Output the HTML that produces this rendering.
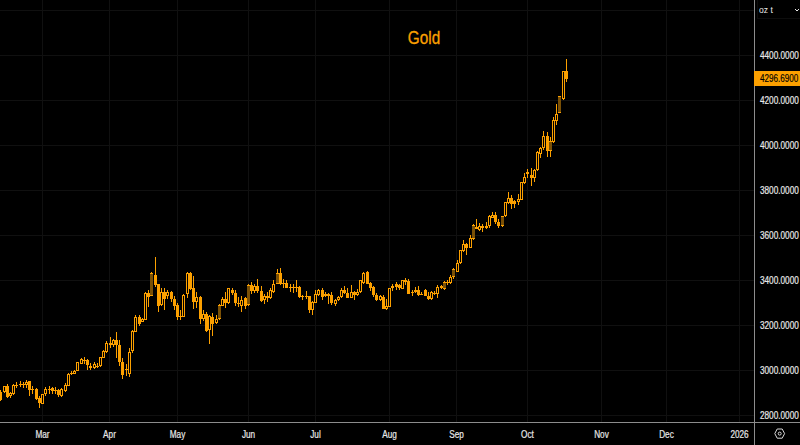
<!DOCTYPE html>
<html><head><meta charset="utf-8"><style>
html,body{margin:0;padding:0;background:#000;width:800px;height:445px;overflow:hidden;}
body{position:relative;font-family:"Liberation Sans",sans-serif;}
.yl{-webkit-text-stroke:0.2px #e8e8e8;position:absolute;left:760px;width:52px;height:12px;line-height:12px;font-size:10px;color:#e8e8e8;white-space:nowrap;transform-origin:0 0;transform:scaleX(0.82);}
.xl{-webkit-text-stroke:0.2px #e8e8e8;position:absolute;top:427.6px;width:61px;text-align:center;height:14px;line-height:14px;font-size:10px;color:#e8e8e8;transform:scaleX(0.82);}
.title{-webkit-text-stroke:0.3px #fca000;position:absolute;left:379.5px;top:27px;width:88px;text-align:center;font-size:18px;line-height:22px;color:#fca000;transform:scaleX(0.85);}
.tag{position:absolute;left:754px;top:71px;width:46px;height:15px;background:#fca000;}
.tagt{-webkit-text-stroke:0.15px #000;position:absolute;left:760px;top:72px;height:13px;line-height:13px;font-size:10px;color:#000;white-space:nowrap;transform-origin:0 0;transform:scaleX(0.81);}
.dd{position:absolute;left:757px;top:-1px;width:50px;height:20px;border:1px solid #0d0d0d;box-sizing:border-box;background:#000;}
.ddt{position:absolute;left:759px;top:4px;font-size:9.5px;line-height:12px;color:#e8e8e8;transform-origin:0 0;transform:scaleX(0.9);}
</style></head><body>
<svg width="800" height="445" viewBox="0 0 800 445" style="position:absolute;left:0;top:0" shape-rendering="crispEdges">
<rect x="0" y="10" width="754" height="1" fill="#101010"/><rect x="0" y="55" width="754" height="1" fill="#101010"/><rect x="0" y="100" width="754" height="1" fill="#101010"/><rect x="0" y="145" width="754" height="1" fill="#101010"/><rect x="0" y="190" width="754" height="1" fill="#101010"/><rect x="0" y="235" width="754" height="1" fill="#101010"/><rect x="0" y="280" width="754" height="1" fill="#101010"/><rect x="0" y="325" width="754" height="1" fill="#101010"/><rect x="0" y="370" width="754" height="1" fill="#101010"/><rect x="0" y="415" width="754" height="1" fill="#101010"/><rect x="42" y="0" width="1" height="422" fill="#101010"/><rect x="109" y="0" width="1" height="422" fill="#101010"/><rect x="177" y="0" width="1" height="422" fill="#101010"/><rect x="248" y="0" width="1" height="422" fill="#101010"/><rect x="315" y="0" width="1" height="422" fill="#101010"/><rect x="389" y="0" width="1" height="422" fill="#101010"/><rect x="456" y="0" width="1" height="422" fill="#101010"/><rect x="527" y="0" width="1" height="422" fill="#101010"/><rect x="601" y="0" width="1" height="422" fill="#101010"/><rect x="666" y="0" width="1" height="422" fill="#101010"/><rect x="739" y="0" width="1" height="422" fill="#101010"/><rect x="754" y="0" width="1" height="445" fill="#8c8c8c"/><rect x="0" y="422" width="800" height="1" fill="#8c8c8c"/>
<rect x="0" y="390" width="1" height="11" fill="#fca000"/><rect x="-1" y="392" width="3" height="8" fill="#fca000"/><rect x="4" y="386" width="1" height="7" fill="#fca000"/><rect x="3" y="386" width="3" height="6" fill="#fca000"/><rect x="4" y="387" width="1" height="4" fill="#000"/><rect x="7" y="384" width="1" height="14" fill="#fca000"/><rect x="6" y="386" width="3" height="11" fill="#fca000"/><rect x="10" y="392" width="1" height="6" fill="#fca000"/><rect x="9" y="393" width="3" height="3" fill="#fca000"/><rect x="10" y="394" width="1" height="1" fill="#000"/><rect x="13" y="384" width="1" height="11" fill="#fca000"/><rect x="12" y="385" width="3" height="9" fill="#fca000"/><rect x="13" y="386" width="1" height="7" fill="#000"/><rect x="16" y="382" width="1" height="6" fill="#fca000"/><rect x="15" y="385" width="3" height="1" fill="#fca000"/><rect x="20" y="381" width="1" height="6" fill="#fca000"/><rect x="19" y="384" width="3" height="1" fill="#fca000"/><rect x="23" y="382" width="1" height="6" fill="#fca000"/><rect x="22" y="384" width="3" height="1" fill="#fca000"/><rect x="26" y="380" width="1" height="8" fill="#fca000"/><rect x="25" y="382" width="3" height="3" fill="#fca000"/><rect x="26" y="383" width="1" height="1" fill="#000"/><rect x="29" y="381" width="1" height="15" fill="#fca000"/><rect x="28" y="381" width="3" height="9" fill="#fca000"/><rect x="32" y="386" width="1" height="8" fill="#fca000"/><rect x="31" y="389" width="3" height="1" fill="#fca000"/><rect x="36" y="388" width="1" height="12" fill="#fca000"/><rect x="35" y="389" width="3" height="10" fill="#fca000"/><rect x="39" y="396" width="1" height="12" fill="#fca000"/><rect x="38" y="398" width="3" height="5" fill="#fca000"/><rect x="42" y="394" width="1" height="10" fill="#fca000"/><rect x="41" y="394" width="3" height="10" fill="#fca000"/><rect x="42" y="395" width="1" height="8" fill="#000"/><rect x="45" y="387" width="1" height="9" fill="#fca000"/><rect x="44" y="389" width="3" height="5" fill="#fca000"/><rect x="45" y="390" width="1" height="3" fill="#000"/><rect x="49" y="386" width="1" height="8" fill="#fca000"/><rect x="48" y="389" width="3" height="1" fill="#fca000"/><rect x="52" y="387" width="1" height="7" fill="#fca000"/><rect x="51" y="388" width="3" height="3" fill="#fca000"/><rect x="55" y="387" width="1" height="7" fill="#fca000"/><rect x="54" y="390" width="3" height="1" fill="#fca000"/><rect x="58" y="389" width="1" height="8" fill="#fca000"/><rect x="57" y="390" width="3" height="5" fill="#fca000"/><rect x="61" y="388" width="1" height="9" fill="#fca000"/><rect x="60" y="389" width="3" height="7" fill="#fca000"/><rect x="61" y="390" width="1" height="5" fill="#000"/><rect x="65" y="383" width="1" height="9" fill="#fca000"/><rect x="64" y="385" width="3" height="6" fill="#fca000"/><rect x="65" y="386" width="1" height="4" fill="#000"/><rect x="68" y="373" width="1" height="13" fill="#fca000"/><rect x="67" y="374" width="3" height="12" fill="#fca000"/><rect x="68" y="375" width="1" height="10" fill="#000"/><rect x="71" y="371" width="1" height="4" fill="#fca000"/><rect x="70" y="373" width="3" height="1" fill="#fca000"/><rect x="74" y="370" width="1" height="4" fill="#fca000"/><rect x="73" y="371" width="3" height="3" fill="#fca000"/><rect x="74" y="372" width="1" height="1" fill="#000"/><rect x="77" y="362" width="1" height="9" fill="#fca000"/><rect x="76" y="362" width="3" height="9" fill="#fca000"/><rect x="77" y="363" width="1" height="7" fill="#000"/><rect x="81" y="358" width="1" height="6" fill="#fca000"/><rect x="80" y="359" width="3" height="5" fill="#fca000"/><rect x="81" y="360" width="1" height="3" fill="#000"/><rect x="84" y="357" width="1" height="7" fill="#fca000"/><rect x="83" y="360" width="3" height="1" fill="#fca000"/><rect x="87" y="359" width="1" height="11" fill="#fca000"/><rect x="86" y="360" width="3" height="5" fill="#fca000"/><rect x="90" y="363" width="1" height="7" fill="#fca000"/><rect x="89" y="366" width="3" height="2" fill="#fca000"/><rect x="94" y="362" width="1" height="7" fill="#fca000"/><rect x="93" y="364" width="3" height="4" fill="#fca000"/><rect x="94" y="365" width="1" height="2" fill="#000"/><rect x="97" y="363" width="1" height="5" fill="#fca000"/><rect x="96" y="366" width="3" height="1" fill="#fca000"/><rect x="100" y="357" width="1" height="10" fill="#fca000"/><rect x="99" y="357" width="3" height="9" fill="#fca000"/><rect x="100" y="358" width="1" height="7" fill="#000"/><rect x="103" y="350" width="1" height="8" fill="#fca000"/><rect x="102" y="351" width="3" height="7" fill="#fca000"/><rect x="103" y="352" width="1" height="5" fill="#000"/><rect x="106" y="341" width="1" height="12" fill="#fca000"/><rect x="105" y="343" width="3" height="9" fill="#fca000"/><rect x="106" y="344" width="1" height="7" fill="#000"/><rect x="110" y="337" width="1" height="11" fill="#fca000"/><rect x="109" y="343" width="3" height="2" fill="#fca000"/><rect x="113" y="339" width="1" height="8" fill="#fca000"/><rect x="112" y="340" width="3" height="5" fill="#fca000"/><rect x="113" y="341" width="1" height="3" fill="#000"/><rect x="116" y="332" width="1" height="26" fill="#fca000"/><rect x="115" y="340" width="3" height="5" fill="#fca000"/><rect x="119" y="340" width="1" height="26" fill="#fca000"/><rect x="118" y="345" width="3" height="17" fill="#fca000"/><rect x="122" y="358" width="1" height="21" fill="#fca000"/><rect x="121" y="362" width="3" height="13" fill="#fca000"/><rect x="126" y="364" width="1" height="12" fill="#fca000"/><rect x="125" y="369" width="3" height="1" fill="#fca000"/><rect x="129" y="348" width="1" height="29" fill="#fca000"/><rect x="128" y="352" width="3" height="22" fill="#fca000"/><rect x="129" y="353" width="1" height="20" fill="#000"/><rect x="132" y="330" width="1" height="23" fill="#fca000"/><rect x="131" y="331" width="3" height="20" fill="#fca000"/><rect x="132" y="332" width="1" height="18" fill="#000"/><rect x="135" y="315" width="1" height="17" fill="#fca000"/><rect x="134" y="317" width="3" height="15" fill="#fca000"/><rect x="135" y="318" width="1" height="13" fill="#000"/><rect x="139" y="315" width="1" height="11" fill="#fca000"/><rect x="138" y="317" width="3" height="7" fill="#fca000"/><rect x="142" y="318" width="1" height="4" fill="#fca000"/><rect x="141" y="319" width="3" height="3" fill="#fca000"/><rect x="142" y="320" width="1" height="1" fill="#000"/><rect x="145" y="292" width="1" height="28" fill="#fca000"/><rect x="144" y="293" width="3" height="27" fill="#fca000"/><rect x="145" y="294" width="1" height="25" fill="#000"/><rect x="148" y="290" width="1" height="17" fill="#fca000"/><rect x="147" y="293" width="3" height="4" fill="#fca000"/><rect x="151" y="272" width="1" height="24" fill="#fca000"/><rect x="150" y="273" width="3" height="23" fill="#7a5006"/><rect x="150" y="273" width="3" height="1" fill="#fca000"/><rect x="150" y="295" width="3" height="1" fill="#fca000"/><rect x="155" y="257" width="1" height="30" fill="#fca000"/><rect x="154" y="275" width="3" height="10" fill="#fca000"/><rect x="158" y="284" width="1" height="28" fill="#fca000"/><rect x="157" y="284" width="3" height="22" fill="#fca000"/><rect x="161" y="288" width="1" height="18" fill="#fca000"/><rect x="160" y="292" width="3" height="13" fill="#fca000"/><rect x="161" y="293" width="1" height="11" fill="#000"/><rect x="164" y="288" width="1" height="22" fill="#fca000"/><rect x="163" y="292" width="3" height="7" fill="#fca000"/><rect x="167" y="290" width="1" height="9" fill="#fca000"/><rect x="166" y="292" width="3" height="4" fill="#fca000"/><rect x="167" y="293" width="1" height="2" fill="#000"/><rect x="171" y="291" width="1" height="11" fill="#fca000"/><rect x="170" y="292" width="3" height="7" fill="#fca000"/><rect x="174" y="296" width="1" height="14" fill="#fca000"/><rect x="173" y="299" width="3" height="7" fill="#fca000"/><rect x="177" y="303" width="1" height="17" fill="#fca000"/><rect x="176" y="305" width="3" height="12" fill="#fca000"/><rect x="180" y="310" width="1" height="10" fill="#fca000"/><rect x="179" y="316" width="3" height="1" fill="#fca000"/><rect x="183" y="294" width="1" height="23" fill="#fca000"/><rect x="182" y="295" width="3" height="22" fill="#fca000"/><rect x="183" y="296" width="1" height="20" fill="#000"/><rect x="187" y="272" width="1" height="26" fill="#fca000"/><rect x="186" y="273" width="3" height="21" fill="#fca000"/><rect x="187" y="274" width="1" height="19" fill="#000"/><rect x="190" y="272" width="1" height="18" fill="#fca000"/><rect x="189" y="273" width="3" height="16" fill="#fca000"/><rect x="193" y="276" width="1" height="33" fill="#fca000"/><rect x="192" y="288" width="3" height="14" fill="#fca000"/><rect x="196" y="292" width="1" height="16" fill="#fca000"/><rect x="195" y="297" width="3" height="5" fill="#fca000"/><rect x="196" y="298" width="1" height="3" fill="#000"/><rect x="200" y="296" width="1" height="28" fill="#fca000"/><rect x="199" y="297" width="3" height="22" fill="#fca000"/><rect x="203" y="310" width="1" height="11" fill="#fca000"/><rect x="202" y="314" width="3" height="5" fill="#fca000"/><rect x="203" y="315" width="1" height="3" fill="#000"/><rect x="206" y="312" width="1" height="20" fill="#fca000"/><rect x="205" y="314" width="3" height="17" fill="#fca000"/><rect x="209" y="315" width="1" height="29" fill="#fca000"/><rect x="208" y="316" width="3" height="14" fill="#fca000"/><rect x="209" y="317" width="1" height="12" fill="#000"/><rect x="212" y="313" width="1" height="23" fill="#fca000"/><rect x="211" y="317" width="3" height="7" fill="#fca000"/><rect x="216" y="315" width="1" height="9" fill="#fca000"/><rect x="215" y="319" width="3" height="4" fill="#fca000"/><rect x="216" y="320" width="1" height="2" fill="#000"/><rect x="219" y="304" width="1" height="16" fill="#fca000"/><rect x="218" y="305" width="3" height="14" fill="#7a5006"/><rect x="218" y="305" width="3" height="1" fill="#fca000"/><rect x="218" y="318" width="3" height="1" fill="#fca000"/><rect x="222" y="297" width="1" height="9" fill="#fca000"/><rect x="221" y="299" width="3" height="7" fill="#fca000"/><rect x="222" y="300" width="1" height="5" fill="#000"/><rect x="225" y="292" width="1" height="16" fill="#fca000"/><rect x="224" y="299" width="3" height="4" fill="#fca000"/><rect x="228" y="288" width="1" height="16" fill="#fca000"/><rect x="227" y="288" width="3" height="15" fill="#fca000"/><rect x="228" y="289" width="1" height="13" fill="#000"/><rect x="232" y="288" width="1" height="7" fill="#fca000"/><rect x="231" y="290" width="3" height="3" fill="#fca000"/><rect x="235" y="290" width="1" height="16" fill="#fca000"/><rect x="234" y="293" width="3" height="10" fill="#fca000"/><rect x="238" y="297" width="1" height="10" fill="#fca000"/><rect x="237" y="303" width="3" height="1" fill="#fca000"/><rect x="241" y="296" width="1" height="16" fill="#fca000"/><rect x="240" y="300" width="3" height="6" fill="#fca000"/><rect x="241" y="301" width="1" height="4" fill="#000"/><rect x="245" y="297" width="1" height="12" fill="#fca000"/><rect x="244" y="298" width="3" height="8" fill="#fca000"/><rect x="248" y="284" width="1" height="22" fill="#fca000"/><rect x="247" y="285" width="3" height="20" fill="#7a5006"/><rect x="247" y="285" width="3" height="1" fill="#fca000"/><rect x="247" y="304" width="3" height="1" fill="#fca000"/><rect x="251" y="282" width="1" height="12" fill="#fca000"/><rect x="250" y="285" width="3" height="6" fill="#fca000"/><rect x="254" y="284" width="1" height="9" fill="#fca000"/><rect x="253" y="286" width="3" height="5" fill="#fca000"/><rect x="254" y="287" width="1" height="3" fill="#000"/><rect x="257" y="279" width="1" height="14" fill="#fca000"/><rect x="256" y="286" width="3" height="5" fill="#fca000"/><rect x="261" y="286" width="1" height="16" fill="#fca000"/><rect x="260" y="291" width="3" height="10" fill="#fca000"/><rect x="264" y="294" width="1" height="10" fill="#fca000"/><rect x="263" y="296" width="3" height="4" fill="#fca000"/><rect x="264" y="297" width="1" height="2" fill="#000"/><rect x="267" y="292" width="1" height="10" fill="#fca000"/><rect x="266" y="296" width="3" height="2" fill="#fca000"/><rect x="270" y="288" width="1" height="11" fill="#fca000"/><rect x="269" y="290" width="3" height="8" fill="#fca000"/><rect x="270" y="291" width="1" height="6" fill="#000"/><rect x="273" y="280" width="1" height="13" fill="#fca000"/><rect x="272" y="284" width="3" height="8" fill="#fca000"/><rect x="273" y="285" width="1" height="6" fill="#000"/><rect x="277" y="269" width="1" height="15" fill="#fca000"/><rect x="276" y="273" width="3" height="11" fill="#7a5006"/><rect x="276" y="273" width="3" height="1" fill="#fca000"/><rect x="276" y="283" width="3" height="1" fill="#fca000"/><rect x="280" y="268" width="1" height="17" fill="#fca000"/><rect x="279" y="273" width="3" height="11" fill="#fca000"/><rect x="283" y="279" width="1" height="9" fill="#fca000"/><rect x="282" y="283" width="3" height="1" fill="#fca000"/><rect x="286" y="280" width="1" height="8" fill="#fca000"/><rect x="285" y="283" width="3" height="5" fill="#fca000"/><rect x="290" y="284" width="1" height="8" fill="#fca000"/><rect x="289" y="287" width="3" height="1" fill="#fca000"/><rect x="293" y="284" width="1" height="9" fill="#fca000"/><rect x="292" y="287" width="3" height="1" fill="#fca000"/><rect x="296" y="280" width="1" height="12" fill="#fca000"/><rect x="295" y="287" width="3" height="1" fill="#fca000"/><rect x="299" y="286" width="1" height="12" fill="#fca000"/><rect x="298" y="287" width="3" height="10" fill="#fca000"/><rect x="302" y="295" width="1" height="5" fill="#fca000"/><rect x="301" y="296" width="3" height="1" fill="#fca000"/><rect x="306" y="291" width="1" height="8" fill="#fca000"/><rect x="305" y="296" width="3" height="1" fill="#fca000"/><rect x="309" y="296" width="1" height="17" fill="#fca000"/><rect x="308" y="296" width="3" height="14" fill="#fca000"/><rect x="312" y="301" width="1" height="14" fill="#fca000"/><rect x="311" y="302" width="3" height="8" fill="#fca000"/><rect x="312" y="303" width="1" height="6" fill="#000"/><rect x="315" y="290" width="1" height="13" fill="#fca000"/><rect x="314" y="294" width="3" height="9" fill="#fca000"/><rect x="315" y="295" width="1" height="7" fill="#000"/><rect x="318" y="289" width="1" height="7" fill="#fca000"/><rect x="317" y="290" width="3" height="5" fill="#fca000"/><rect x="318" y="291" width="1" height="3" fill="#000"/><rect x="322" y="288" width="1" height="12" fill="#fca000"/><rect x="321" y="290" width="3" height="7" fill="#fca000"/><rect x="325" y="292" width="1" height="5" fill="#fca000"/><rect x="324" y="294" width="3" height="2" fill="#fca000"/><rect x="328" y="293" width="1" height="11" fill="#fca000"/><rect x="327" y="294" width="3" height="2" fill="#fca000"/><rect x="331" y="292" width="1" height="13" fill="#fca000"/><rect x="330" y="295" width="3" height="8" fill="#fca000"/><rect x="335" y="299" width="1" height="7" fill="#fca000"/><rect x="334" y="300" width="3" height="4" fill="#fca000"/><rect x="335" y="301" width="1" height="2" fill="#000"/><rect x="338" y="296" width="1" height="5" fill="#fca000"/><rect x="337" y="297" width="3" height="3" fill="#fca000"/><rect x="338" y="298" width="1" height="1" fill="#000"/><rect x="341" y="288" width="1" height="10" fill="#fca000"/><rect x="340" y="290" width="3" height="7" fill="#fca000"/><rect x="341" y="291" width="1" height="5" fill="#000"/><rect x="344" y="286" width="1" height="8" fill="#fca000"/><rect x="343" y="290" width="3" height="3" fill="#fca000"/><rect x="347" y="288" width="1" height="10" fill="#fca000"/><rect x="346" y="293" width="3" height="5" fill="#fca000"/><rect x="351" y="285" width="1" height="13" fill="#fca000"/><rect x="350" y="292" width="3" height="6" fill="#fca000"/><rect x="351" y="293" width="1" height="4" fill="#000"/><rect x="354" y="291" width="1" height="9" fill="#fca000"/><rect x="353" y="292" width="3" height="3" fill="#fca000"/><rect x="357" y="289" width="1" height="7" fill="#fca000"/><rect x="356" y="292" width="3" height="3" fill="#fca000"/><rect x="357" y="293" width="1" height="1" fill="#000"/><rect x="360" y="280" width="1" height="13" fill="#fca000"/><rect x="359" y="280" width="3" height="12" fill="#fca000"/><rect x="360" y="281" width="1" height="10" fill="#000"/><rect x="363" y="272" width="1" height="12" fill="#fca000"/><rect x="362" y="273" width="3" height="10" fill="#fca000"/><rect x="363" y="274" width="1" height="8" fill="#000"/><rect x="367" y="271" width="1" height="13" fill="#fca000"/><rect x="366" y="272" width="3" height="12" fill="#fca000"/><rect x="370" y="282" width="1" height="9" fill="#fca000"/><rect x="369" y="283" width="3" height="5" fill="#fca000"/><rect x="373" y="286" width="1" height="11" fill="#fca000"/><rect x="372" y="287" width="3" height="8" fill="#fca000"/><rect x="376" y="293" width="1" height="8" fill="#fca000"/><rect x="375" y="295" width="3" height="5" fill="#fca000"/><rect x="380" y="295" width="1" height="6" fill="#fca000"/><rect x="379" y="296" width="3" height="4" fill="#fca000"/><rect x="380" y="297" width="1" height="2" fill="#000"/><rect x="383" y="295" width="1" height="14" fill="#fca000"/><rect x="382" y="297" width="3" height="12" fill="#fca000"/><rect x="386" y="299" width="1" height="11" fill="#fca000"/><rect x="385" y="306" width="3" height="3" fill="#fca000"/><rect x="386" y="307" width="1" height="1" fill="#000"/><rect x="389" y="288" width="1" height="19" fill="#fca000"/><rect x="388" y="288" width="3" height="19" fill="#fca000"/><rect x="389" y="289" width="1" height="17" fill="#000"/><rect x="392" y="284" width="1" height="7" fill="#fca000"/><rect x="391" y="286" width="3" height="2" fill="#fca000"/><rect x="396" y="282" width="1" height="8" fill="#fca000"/><rect x="395" y="284" width="3" height="3" fill="#fca000"/><rect x="399" y="284" width="1" height="6" fill="#fca000"/><rect x="398" y="285" width="3" height="3" fill="#fca000"/><rect x="402" y="280" width="1" height="9" fill="#fca000"/><rect x="401" y="280" width="3" height="9" fill="#fca000"/><rect x="402" y="281" width="1" height="7" fill="#000"/><rect x="405" y="278" width="1" height="7" fill="#fca000"/><rect x="404" y="280" width="3" height="2" fill="#fca000"/><rect x="408" y="279" width="1" height="15" fill="#fca000"/><rect x="407" y="281" width="3" height="13" fill="#fca000"/><rect x="412" y="290" width="1" height="6" fill="#fca000"/><rect x="411" y="292" width="3" height="1" fill="#fca000"/><rect x="415" y="287" width="1" height="6" fill="#fca000"/><rect x="414" y="290" width="3" height="2" fill="#fca000"/><rect x="418" y="286" width="1" height="10" fill="#fca000"/><rect x="417" y="290" width="3" height="5" fill="#fca000"/><rect x="421" y="292" width="1" height="3" fill="#fca000"/><rect x="420" y="294" width="3" height="1" fill="#fca000"/><rect x="425" y="289" width="1" height="7" fill="#fca000"/><rect x="424" y="290" width="3" height="6" fill="#fca000"/><rect x="428" y="292" width="1" height="8" fill="#fca000"/><rect x="427" y="296" width="3" height="3" fill="#fca000"/><rect x="431" y="291" width="1" height="9" fill="#fca000"/><rect x="430" y="292" width="3" height="7" fill="#fca000"/><rect x="431" y="293" width="1" height="5" fill="#000"/><rect x="434" y="291" width="1" height="4" fill="#fca000"/><rect x="433" y="293" width="3" height="1" fill="#fca000"/><rect x="437" y="285" width="1" height="13" fill="#fca000"/><rect x="436" y="287" width="3" height="7" fill="#fca000"/><rect x="437" y="288" width="1" height="5" fill="#000"/><rect x="441" y="285" width="1" height="4" fill="#fca000"/><rect x="440" y="286" width="3" height="2" fill="#fca000"/><rect x="444" y="281" width="1" height="9" fill="#fca000"/><rect x="443" y="282" width="3" height="7" fill="#7a5006"/><rect x="443" y="282" width="3" height="1" fill="#fca000"/><rect x="443" y="288" width="3" height="1" fill="#fca000"/><rect x="447" y="280" width="1" height="5" fill="#fca000"/><rect x="446" y="282" width="3" height="1" fill="#fca000"/><rect x="450" y="275" width="1" height="9" fill="#fca000"/><rect x="449" y="277" width="3" height="6" fill="#fca000"/><rect x="450" y="278" width="1" height="4" fill="#000"/><rect x="453" y="268" width="1" height="11" fill="#fca000"/><rect x="452" y="269" width="3" height="8" fill="#7a5006"/><rect x="452" y="269" width="3" height="1" fill="#fca000"/><rect x="452" y="276" width="3" height="1" fill="#fca000"/><rect x="457" y="260" width="1" height="12" fill="#fca000"/><rect x="456" y="263" width="3" height="9" fill="#fca000"/><rect x="457" y="264" width="1" height="7" fill="#000"/><rect x="460" y="250" width="1" height="14" fill="#fca000"/><rect x="459" y="250" width="3" height="13" fill="#fca000"/><rect x="460" y="251" width="1" height="11" fill="#000"/><rect x="463" y="240" width="1" height="12" fill="#fca000"/><rect x="462" y="244" width="3" height="7" fill="#fca000"/><rect x="463" y="245" width="1" height="5" fill="#000"/><rect x="466" y="243" width="1" height="12" fill="#fca000"/><rect x="465" y="244" width="3" height="4" fill="#fca000"/><rect x="470" y="235" width="1" height="13" fill="#fca000"/><rect x="469" y="238" width="3" height="10" fill="#fca000"/><rect x="470" y="239" width="1" height="8" fill="#000"/><rect x="473" y="224" width="1" height="16" fill="#fca000"/><rect x="472" y="225" width="3" height="14" fill="#7a5006"/><rect x="472" y="225" width="3" height="1" fill="#fca000"/><rect x="472" y="238" width="3" height="1" fill="#fca000"/><rect x="476" y="219" width="1" height="10" fill="#fca000"/><rect x="475" y="227" width="3" height="2" fill="#fca000"/><rect x="479" y="223" width="1" height="8" fill="#fca000"/><rect x="478" y="226" width="3" height="4" fill="#fca000"/><rect x="479" y="227" width="1" height="2" fill="#000"/><rect x="482" y="224" width="1" height="8" fill="#fca000"/><rect x="481" y="226" width="3" height="2" fill="#fca000"/><rect x="486" y="222" width="1" height="7" fill="#fca000"/><rect x="485" y="226" width="3" height="2" fill="#fca000"/><rect x="489" y="215" width="1" height="13" fill="#fca000"/><rect x="488" y="216" width="3" height="10" fill="#fca000"/><rect x="489" y="217" width="1" height="8" fill="#000"/><rect x="492" y="212" width="1" height="6" fill="#fca000"/><rect x="491" y="215" width="3" height="3" fill="#fca000"/><rect x="492" y="216" width="1" height="1" fill="#000"/><rect x="495" y="212" width="1" height="12" fill="#fca000"/><rect x="494" y="215" width="3" height="7" fill="#fca000"/><rect x="498" y="219" width="1" height="9" fill="#fca000"/><rect x="497" y="222" width="3" height="4" fill="#fca000"/><rect x="502" y="216" width="1" height="11" fill="#fca000"/><rect x="501" y="216" width="3" height="10" fill="#7a5006"/><rect x="501" y="216" width="3" height="1" fill="#fca000"/><rect x="501" y="225" width="3" height="1" fill="#fca000"/><rect x="505" y="202" width="1" height="15" fill="#fca000"/><rect x="504" y="202" width="3" height="14" fill="#fca000"/><rect x="505" y="203" width="1" height="12" fill="#000"/><rect x="508" y="192" width="1" height="12" fill="#fca000"/><rect x="507" y="198" width="3" height="5" fill="#fca000"/><rect x="508" y="199" width="1" height="3" fill="#000"/><rect x="511" y="195" width="1" height="14" fill="#fca000"/><rect x="510" y="198" width="3" height="6" fill="#fca000"/><rect x="514" y="200" width="1" height="8" fill="#fca000"/><rect x="513" y="201" width="3" height="3" fill="#fca000"/><rect x="518" y="194" width="1" height="11" fill="#fca000"/><rect x="517" y="199" width="3" height="3" fill="#fca000"/><rect x="518" y="200" width="1" height="1" fill="#000"/><rect x="521" y="182" width="1" height="18" fill="#fca000"/><rect x="520" y="182" width="3" height="18" fill="#fca000"/><rect x="521" y="183" width="1" height="16" fill="#000"/><rect x="524" y="173" width="1" height="11" fill="#fca000"/><rect x="523" y="177" width="3" height="6" fill="#fca000"/><rect x="524" y="178" width="1" height="4" fill="#000"/><rect x="527" y="169" width="1" height="9" fill="#fca000"/><rect x="526" y="172" width="3" height="2" fill="#fca000"/><rect x="531" y="168" width="1" height="18" fill="#fca000"/><rect x="530" y="175" width="3" height="3" fill="#fca000"/><rect x="534" y="169" width="1" height="13" fill="#fca000"/><rect x="533" y="170" width="3" height="8" fill="#fca000"/><rect x="534" y="171" width="1" height="6" fill="#000"/><rect x="537" y="151" width="1" height="20" fill="#fca000"/><rect x="536" y="152" width="3" height="18" fill="#fca000"/><rect x="537" y="153" width="1" height="16" fill="#000"/><rect x="540" y="147" width="1" height="11" fill="#fca000"/><rect x="539" y="148" width="3" height="6" fill="#fca000"/><rect x="540" y="149" width="1" height="4" fill="#000"/><rect x="543" y="131" width="1" height="19" fill="#fca000"/><rect x="542" y="136" width="3" height="12" fill="#fca000"/><rect x="543" y="137" width="1" height="10" fill="#000"/><rect x="547" y="132" width="1" height="25" fill="#fca000"/><rect x="546" y="136" width="3" height="15" fill="#fca000"/><rect x="550" y="137" width="1" height="20" fill="#fca000"/><rect x="549" y="141" width="3" height="10" fill="#7a5006"/><rect x="549" y="141" width="3" height="1" fill="#fca000"/><rect x="549" y="150" width="3" height="1" fill="#fca000"/><rect x="553" y="117" width="1" height="26" fill="#fca000"/><rect x="552" y="120" width="3" height="22" fill="#fca000"/><rect x="553" y="121" width="1" height="20" fill="#000"/><rect x="556" y="104" width="1" height="21" fill="#fca000"/><rect x="555" y="114" width="3" height="7" fill="#fca000"/><rect x="556" y="115" width="1" height="5" fill="#000"/><rect x="559" y="96" width="1" height="17" fill="#fca000"/><rect x="558" y="96" width="3" height="17" fill="#7a5006"/><rect x="558" y="96" width="3" height="1" fill="#fca000"/><rect x="558" y="112" width="3" height="1" fill="#fca000"/><rect x="563" y="71" width="1" height="29" fill="#fca000"/><rect x="562" y="71" width="3" height="28" fill="#fca000"/><rect x="563" y="72" width="1" height="26" fill="#000"/><rect x="566" y="59" width="1" height="23" fill="#fca000"/><rect x="565" y="71" width="3" height="8" fill="#fca000"/>
</svg>
<div class="title">Gold</div>
<div class="yl" style="top:50.25px">4400.0000</div><div class="yl" style="top:95.25px">4200.0000</div><div class="yl" style="top:140.25px">4000.0000</div><div class="yl" style="top:185.25px">3800.0000</div><div class="yl" style="top:230.25px">3600.0000</div><div class="yl" style="top:275.25px">3400.0000</div><div class="yl" style="top:320.25px">3200.0000</div><div class="yl" style="top:365.25px">3000.0000</div><div class="yl" style="top:410.25px">2800.0000</div>
<div class="xl" style="left:12px">Mar</div><div class="xl" style="left:79px">Apr</div><div class="xl" style="left:147px">May</div><div class="xl" style="left:218px">Jun</div><div class="xl" style="left:285px">Jul</div><div class="xl" style="left:359px">Aug</div><div class="xl" style="left:426px">Sep</div><div class="xl" style="left:497px">Oct</div><div class="xl" style="left:571px">Nov</div><div class="xl" style="left:636px">Dec</div><div class="xl" style="left:709px">2026</div>
<div class="tag"></div><div class="tagt">4296.6900</div>
<div class="dd"></div><div class="ddt">oz t</div>
<svg style="position:absolute;left:0;top:0" width="800" height="445">
<polyline points="795,9 797,11 799,9" fill="none" stroke="#e8e8e8" stroke-width="1"/>
<polygon points="774.8,433.6 777.2,429 782.2,429 784.6,433.6 782.2,438.2 777.2,438.2" fill="none" stroke="#d8d8d8" stroke-width="1"/>
<circle cx="779.7" cy="433.6" r="1.5" fill="none" stroke="#d8d8d8" stroke-width="1"/>
</svg>
</body></html>
